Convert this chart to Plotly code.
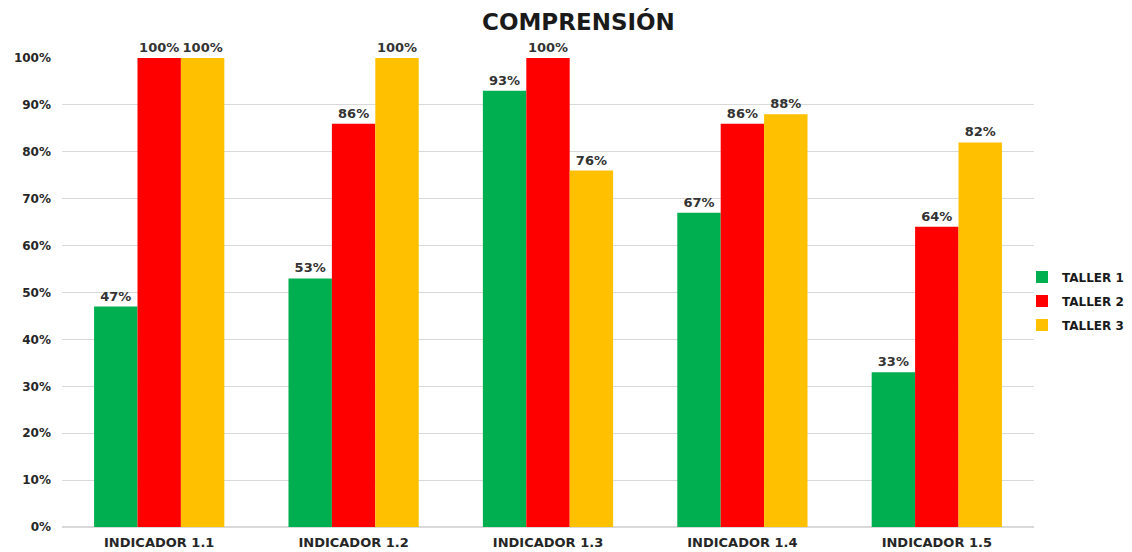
import plotly.graph_objects as go

categories = ["INDICADOR 1.1", "INDICADOR 1.2", "INDICADOR 1.3", "INDICADOR 1.4", "INDICADOR 1.5"]
taller1 = [0.47, 0.53, 0.93, 0.67, 0.33]
taller2 = [1.00, 0.86, 1.00, 0.86, 0.64]
taller3 = [1.00, 1.00, 0.76, 0.88, 0.82]
series_names = ["TALLER 1", "TALLER 2", "TALLER 3"]
colors = ["#00B050", "#FF0000", "#FFC000"]

FONT = "DejaVu Sans"
fig = go.Figure()
for i, (name, vals, c) in enumerate(zip(series_names, [taller1, taller2, taller3], colors)):
    fig.add_trace(go.Bar(
        x=categories, y=vals, name="<b>" + name + "</b>", marker_color=c, marker_line_width=0,
        texttemplate="<b>%{y:.0%}</b>", textposition="outside", cliponaxis=False,
        textfont=dict(family=FONT, size=13, color="#333333"),
        legendgroup="g%d" % i,
    ))

fig.update_layout(
    width=1132, height=552,
    margin=dict(l=62, r=98, t=58, b=25, autoexpand=False),
    paper_bgcolor="white", plot_bgcolor="white",
    barmode="group", bargap=0.33, bargroupgap=0,
    title=dict(text="<b>COMPRENSIÓN</b>", x=0.511, xref="container", xanchor="center",
               y=0.96, yref="container", yanchor="middle",
               font=dict(family=FONT, size=23, color="#1a1a1a")),
    font=dict(family=FONT, color="#262626"),
    legend=dict(xref="container", x=1022 / 1132, y=0.482, xanchor="left", yanchor="middle",
                font=dict(family=FONT, size=12, color="#1a1a1a"),
                itemwidth=30, tracegroupgap=5, traceorder="grouped",
                bgcolor="rgba(0,0,0,0)"),
    showlegend=True,
)
fig.update_yaxes(range=[0, 1.0], dtick=0.1, tickformat=".0%", showgrid=True,
                 gridcolor="#D9D9D9", gridwidth=1, zeroline=True, zerolinecolor="#D9D9D9",
                 ticks="", ticklabelstandoff=10, tickprefix="<b>", ticksuffix="</b>",
                 tickfont=dict(family=FONT, size=12, color="#262626"))
fig.update_xaxes(showgrid=False, ticks="", showline=False, ticklabelstandoff=6,
                 tickprefix="<b>", ticksuffix="</b>",
                 tickfont=dict(family=FONT, size=13, color="#262626"))

fig.write_html("out.html")
